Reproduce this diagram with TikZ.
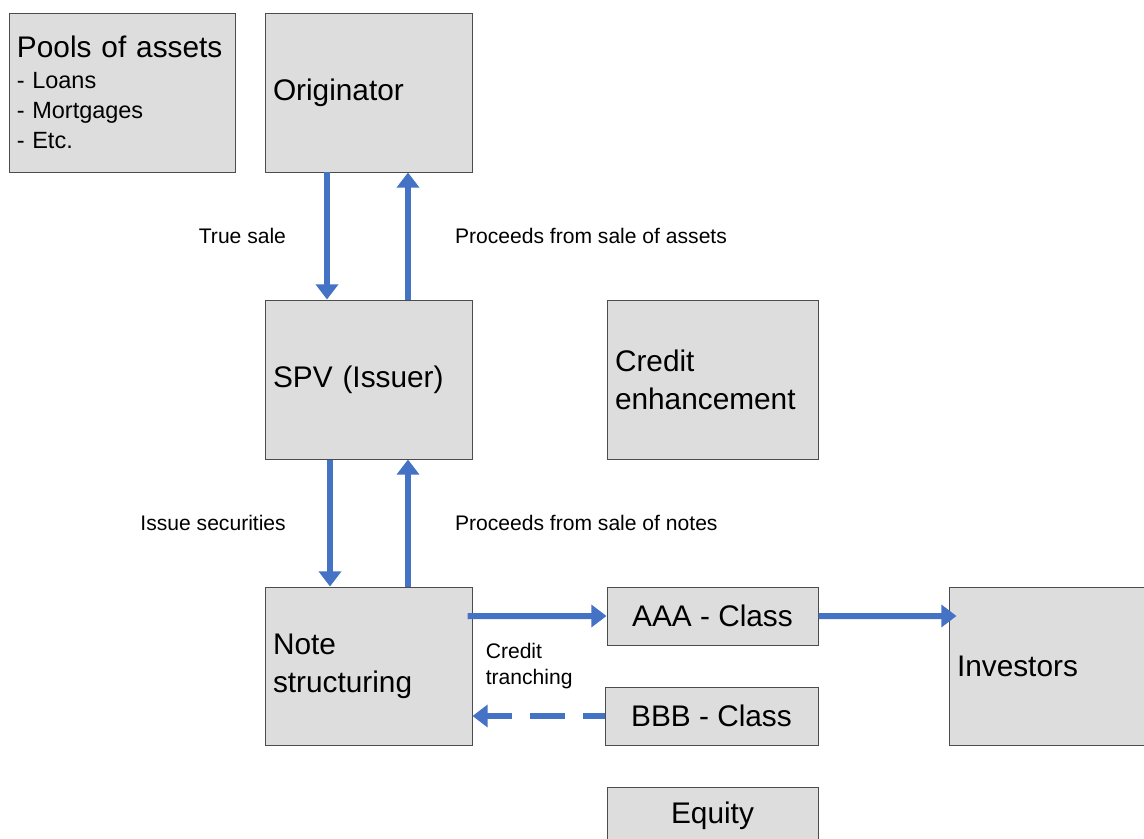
\documentclass[tikz,border=0pt]{standalone}
\usepackage{fontspec}
\setmainfont{Liberation Sans}
\definecolor{flowblue}{RGB}{68, 114, 196}
\definecolor{boxgray}{RGB}{221, 221, 221}
\usetikzlibrary{arrows.meta, positioning}

\begin{document}
\begin{tikzpicture}[
  box/.style={draw=black!70, fill=boxgray, line width=0.7pt, minimum height=3.975cm, inner xsep=0.2cm, font=\fontsize{21.2}{27}\selectfont},
  tranche/.style={box, minimum width=5.275cm, minimum height=1.45cm},
  flow/.style={flowblue, line width=0.15cm, -{Triangle[width=0.55cm, length=0.38cm]}},
  lbl/.style={inner sep=0pt, text=black, font=\fontsize{15}{19}\selectfont}
]
  \clip (0, 0) rectangle (28.6, -20.95);

  % Assets and originator (top)
  \node[box, text width=5.25cm, align=left, minimum width=5.65cm] (pools) at (3.05, -2.3125) {Pools of assets\par
    \fontsize{16.7}{21.5}\selectfont -\hspace{0.32em}Loans\par -\hspace{0.32em}Mortgages\par -\hspace{0.32em}Etc.\par};
  \node[box, text width=4.775cm, align=left] (orig) at (9.2125, -2.3125) {Originator};

  % SPV row
  \node[box, text width=4.775cm, align=left] (spv) at (9.2125, -9.4875) {SPV (Issuer)};
  \node[box, text width=4.875cm, align=left] (credit) at (17.8125, -9.4875) {Credit\\enhancement};

  % Notes, tranches and investors (bottom)
  \node[box, text width=4.775cm, align=left, minimum height=3.95cm] (note) at (9.2125, -16.65) {Note\\structuring};
  \node[tranche] (aaa) at (17.8125, -15.4) {AAA - Class};
  \node[tranche, minimum width=5.325cm] (bbb) at (17.7875, -17.9) {BBB - Class};
  \node[tranche] (equity) at (17.8125, -20.4) {Equity};
  \node[box, text width=4.775cm, align=left, minimum height=3.95cm] (inv) at (26.3125, -16.65) {Investors};

  % Flows between originator and SPV
  \draw[flow] ([xshift=-1.0375cm]orig.south) -- ([xshift=-1.0375cm]spv.north)
    node[midway, left=0.95cm, lbl] {True sale};
  \draw[flow] ([xshift=0.9875cm]spv.north) -- ([xshift=0.9875cm]orig.south)
    node[midway, right=1.1cm, lbl] {Proceeds from sale of assets};

  % Flows between SPV and note structuring
  \draw[flow] ([xshift=-0.9625cm]spv.south) -- ([xshift=-0.9625cm]note.north)
    node[midway, left=1.03cm, lbl] {Issue securities};
  \draw[flow] ([xshift=0.9875cm]note.north) -- ([xshift=0.9875cm]spv.south)
    node[midway, right=1.1cm, lbl] {Proceeds from sale of notes};

  % Tranching
  \draw[flow] ([yshift=1.25cm, xshift=-0.12cm]note.east) -- (aaa.west);
  \draw[flow, shorten >=-0.2cm] (aaa.east) -- ([yshift=1.25cm]inv.west);
  \draw[flow, dash pattern=on 0.875cm off 0.45cm, dash phase=0.325cm] (bbb.west) -- ([yshift=-1.25cm]note.east);
  \node[lbl, align=left, anchor=west] (tranching) at ([xshift=0.325cm]note.east) {Credit\\tranching};
\end{tikzpicture}
\end{document}
